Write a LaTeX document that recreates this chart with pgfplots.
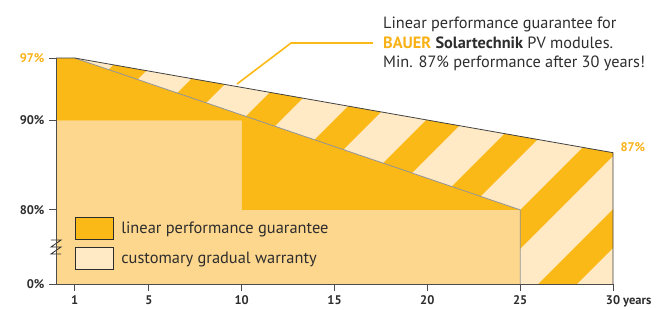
\documentclass[border=0pt]{standalone}
\usepackage{pgfplots}
\pgfplotsset{compat=1.18}
\usepackage{fontspec}
\setmainfont{PT Sans}
\usetikzlibrary{patterns.meta}
\definecolor{dorange}{RGB}{251,185,23}
\definecolor{lorange}{RGB}{254,215,143}
\definecolor{cream}{RGB}{255,234,197}
\definecolor{txt}{RGB}{45,45,45}
\definecolor{lab}{RGB}{249,177,22}
\begin{document}
\begin{tikzpicture}
\path[use as bounding box] (0,0) rectangle (672pt,309pt);
\begin{axis}[
  at={(56pt,25pt)}, anchor=south west,
  scale only axis, width=557pt, height=226pt,
  xmin=0, xmax=30, ymin=71.7, ymax=97,
  axis x line*=bottom, axis y line*=left,
  axis line style={draw=txt!85, line width=0.8pt, -},
  xtick={1,5,10,15,20,25,30},
  xticklabels={1,5,10,15,20,25,30\rlap{ years}},
  ytick={71.7,80,90,97},
  yticklabels={0\%,80\%,90\%,\textcolor{lab}{97\%}},
  tick align=outside, major tick length=7pt,
  tick style={draw=txt!85, line width=0.8pt},
  ticklabel style={font=\bfseries\fontsize{12.5}{12.5}\selectfont, text=txt},
  xticklabel style={yshift=-1pt},
  yticklabel style={xshift=-1pt},
  clip=false, axis on top,
  legend image code/.code={\draw[#1, draw=txt, line width=1pt] (0pt,-11pt) rectangle (38pt,11pt); \path (46pt,0pt);},
  legend style={at={(axis cs:1,79.2)}, anchor=north west, draw=none, fill=none, inner sep=0pt, outer sep=0pt, row sep=7pt, column sep=0pt, font=\fontsize{16.4}{16.4}\selectfont, text=txt, nodes={inner sep=0pt}},
  legend cell align=left,
]
\addlegendimage{fill=dorange}
\addlegendentry{linear performance guarantee}
\addlegendimage{fill=cream}
\addlegendentry{customary gradual warranty}
% customary gradual (step) warranty area
\addplot[fill=lorange, draw=none, forget plot] coordinates {(0,71.7)(0,90)(10,90)(10,80)(25,80)(25,71.7)} -- cycle;
% linear performance guarantee advantage area
\addplot[fill=dorange, draw=none, forget plot] coordinates {(0,90)(0,97)(1,97)(25,80)(10,80)(10,90)} -- cycle;
% striped area between the two lines
\addplot[fill=cream, draw=none, forget plot, postaction={pattern={Lines[angle=45,distance=65pt,line width=27.6pt,xshift=72.5pt]}, pattern color=dorange}] coordinates {(1,97)(30,86.4)(30,71.7)(25,71.7)(25,80)} -- cycle;
% lines
\addplot[draw=gray!85, line width=0.8pt, forget plot] coordinates {(1,97)(25,80)(25,71.7)};
\addplot[draw=txt!90, line width=0.8pt, forget plot] coordinates {(0,97)(1,97)(30,86.4)(30,71.7)};
% axis break
\addplot[draw=txt, line width=0.8pt, forget plot] coordinates {(-0.27,76.62)(0.27,76.62)(-0.27,75.84)(0.27,75.84)(-0.27,75.06)(0.27,75.06)};
% leader line
\addplot[draw=dorange, line width=1.6pt, forget plot] coordinates {(9.75,94.09)(12.66,98.68)(17.07,98.68)};
\node[anchor=west, font=\bfseries\fontsize{12.5}{12.5}\selectfont, text=lab] at (axis cs:30,86.4) [xshift=4pt, yshift=6pt] {87\%};
\end{axis}
\begin{scope}[font=\fontsize{16.3}{16.3}\selectfont, text=txt]
\node[anchor=base west, inner sep=0pt] at (383pt,281pt) {Linear performance guarantee for};
\node[anchor=base west, inner sep=0pt] at (383pt,261pt) {\textbf{\textcolor{lab}{BAUER}} \textbf{Solartechnik} PV modules.};
\node[anchor=base west, inner sep=0pt] at (383pt,241.5pt) {Min. 87\% performance after 30 years!};
\end{scope}
\end{tikzpicture}
\end{document}
